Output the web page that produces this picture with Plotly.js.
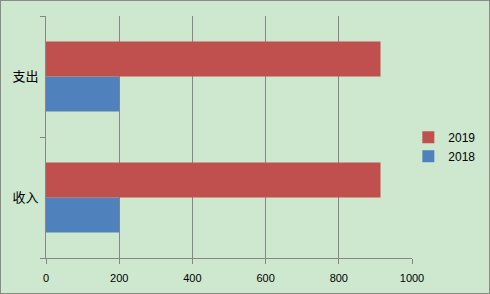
<!DOCTYPE html>
<html>
<head>
<meta charset="utf-8">
<script src="https://cdn.plot.ly/plotly-3.0.1.min.js"></script>
<style>
html,body{margin:0;padding:0;background:#cde8cf;}
#wrap{position:relative;width:490px;height:294px;}
#chart{width:490px;height:294px;}
#frame{position:absolute;left:0;top:0;width:490px;height:294px;box-sizing:border-box;border:1px solid #8a8a8a;pointer-events:none;}
</style>
</head>
<body>
<div id="wrap"><div id="chart"></div><div id="frame"></div></div>
<script>
var categories = ['收入', '支出'];
var values2018 = [200, 200];
var values2019 = [914, 914];
var seriesNames = ['2018', '2019'];
var xTicks = [0, 200, 400, 600, 800, 1000];

var traces = [
  {type:'bar', orientation:'h', name:seriesNames[0], y:categories, x:values2018,
   marker:{color:'#4f81bd'}},
  {type:'bar', orientation:'h', name:seriesNames[1], y:categories, x:values2019,
   marker:{color:'#c0504d'}}
];

var layout = {
  width:490, height:294,
  margin:{l:46, r:78, t:16, b:36, autoexpand:false},
  paper_bgcolor:'#cde8cf', plot_bgcolor:'#cde8cf',
  barmode:'group', bargap:0.42, bargroupgap:0,
  showlegend:true,
  legend:{traceorder:'reversed', x:0.99, y:0.46, xanchor:'left', yanchor:'middle',
          font:{family:'Liberation Sans, Arial, sans-serif', size:12, color:'#000'},
          bgcolor:'rgba(0,0,0,0)', itemwidth:30, tracegroupgap:0},
  font:{family:'Liberation Sans, Arial, sans-serif', size:11, color:'#000'},
  xaxis:{range:[0,1000], tickvals:xTicks, ticktext:xTicks.map(String),
         showgrid:true, gridcolor:'#868686', gridwidth:1,
         zeroline:false, showline:true, linecolor:'#868686', linewidth:1,
         ticks:'outside', ticklen:5, tickcolor:'#868686', ticklabelstandoff:5,
         tickfont:{family:'Liberation Sans, Arial, sans-serif', size:11, color:'#000'}},
  yaxis:{type:'category', categoryarray:categories, showgrid:false, zeroline:false,
         showline:true, linecolor:'#868686', linewidth:1,
         ticks:'outside', ticklen:5, tickcolor:'#868686', tickson:'boundaries',
         ticklabelstandoff:4,
         tickfont:{family:'Noto Sans CJK SC, sans-serif', size:13, color:'#000'}}
};

Plotly.newPlot('chart', traces, layout, {staticPlot:true, displayModeBar:false});
</script>
</body>
</html>
